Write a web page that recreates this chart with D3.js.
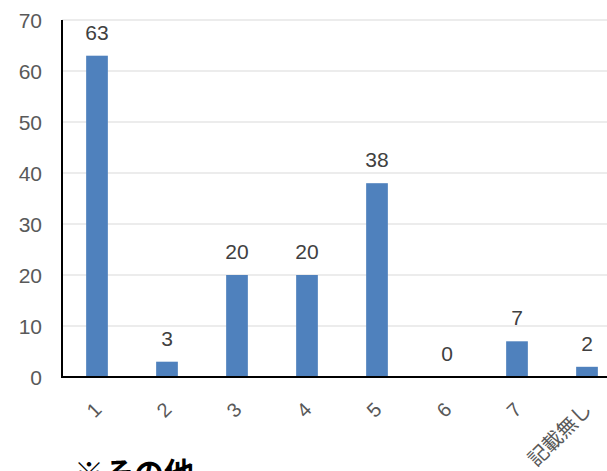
<!DOCTYPE html>
<html>
<head>
<meta charset="utf-8">
<script src="https://cdn.jsdelivr.net/npm/d3@7"></script>
<style>
  body { margin: 0; background: #fff; }
  svg text { font-family: "Liberation Sans", Arial, "Noto Sans CJK JP", sans-serif; }
</style>
</head>
<body>
<div id="chart"></div>
<script>
var categories = ["1", "2", "3", "4", "5", "6", "7", "記載無し"]
var counts = [63, 3, 20, 20, 38, 0, 7, 2]
var yTicks = [0, 10, 20, 30, 40, 50, 60, 70]

var W = 607, H = 471
var margin = {top: 20, left: 62, bottom: 94}
var step = 70

var svg = d3.select("#chart")
  .append("svg")
  .attr("width", W)
  .attr("height", H)

x = d3.scaleBand()
  .domain(categories)
  .range([margin.left, margin.left + step * categories.length])
  .paddingInner(0.69)
  .paddingOuter(0.345)

y = d3.scaleLinear()
  .domain([0, 70])
  .range([H - margin.bottom, margin.top])

// gridlines
svg.append("g")
  .selectAll("line")
  .data(yTicks.filter(d => d > 0))
  .join("line")
    .attr("x1", margin.left)
    .attr("x2", W)
    .attr("y1", d => y(d))
    .attr("y2", d => y(d))
    .attr("stroke", "#d9d9d9")
    .attr("stroke-width", 1)

// y labels
svg.append("g")
  .selectAll("text")
  .data(yTicks)
  .join("text")
    .attr("x", 42)
    .attr("y", d => y(d))
    .attr("dy", "0.36em")
    .attr("text-anchor", "end")
    .style("font-size", "21px")
    .attr("fill", "#595959")
    .text(d => d)

// bars
svg.append("g")
  .selectAll("rect")
  .data(counts)
  .join("rect")
    .attr("x", (d, i) => x(categories[i]))
    .attr("y", d => y(d))
    .attr("width", x.bandwidth())
    .attr("height", d => y(0) - y(d))
    .attr("fill", "#4f81bd")

// value labels
svg.append("g")
  .selectAll("text")
  .data(counts)
  .join("text")
    .attr("x", (d, i) => x(categories[i]) + x.bandwidth() / 2)
    .attr("y", d => y(d) - 16)
    .attr("text-anchor", "middle")
    .style("font-size", "21px")
    .attr("fill", "#404040")
    .text(d => d)

// axes lines
svg.append("line")
  .attr("x1", margin.left).attr("x2", margin.left)
  .attr("y1", margin.top).attr("y2", y(0))
  .attr("stroke", "#000").attr("stroke-width", 2)
svg.append("line")
  .attr("x1", margin.left - 1).attr("x2", W)
  .attr("y1", y(0)).attr("y2", y(0))
  .attr("stroke", "#000").attr("stroke-width", 2)

// x labels, rotated
svg.append("g")
  .selectAll("text")
  .data(categories)
  .join("text")
    .attr("transform", d => "translate(" + (x(d) + x.bandwidth() / 2 + 1) + "," + (y(0) + 29) + ") rotate(-45)")
    .attr("text-anchor", "end")
    .attr("dy", "0.35em")
    .style("font-size", "20px")
    .attr("fill", "#595959")
    .style("font-family", "'Liberation Sans', 'Noto Sans CJK JP', sans-serif")
    .text(d => d)

svg.append("text")
  .attr("x", 74)
  .attr("y", 484)
  .style("font-size", "30px")
  .style("font-weight", "bold")
  .style("font-family", "'Noto Sans CJK JP', sans-serif")
  .attr("fill", "#000")
  .text("※その他")
</script>
</body>
</html>
